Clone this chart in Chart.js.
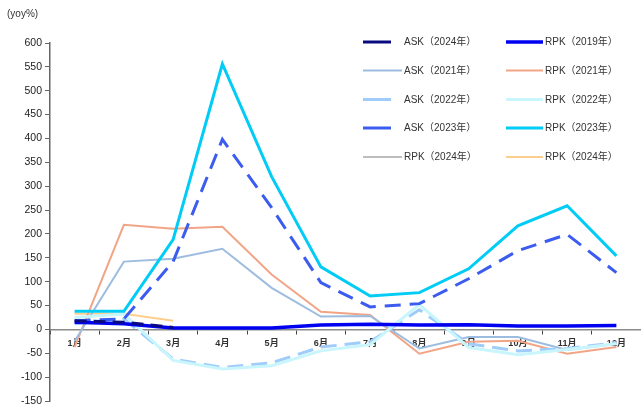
<!DOCTYPE html>
<html>
<head>
<meta charset="utf-8">
<script src="https://cdn.jsdelivr.net/npm/chart.js@4/dist/chart.umd.min.js"></script>
<style>
  html, body { margin: 0; padding: 0; background: #fff; }
  #wrap { position: relative; width: 641px; height: 406px; }
  #unit { position: absolute; left: 7px; top: 8px; font: 10px "Liberation Sans", Arial, sans-serif; color: #333; }
</style>
</head>
<body>
<div id="wrap">
  <div id="unit">(yoy%)</div>
  <canvas id="c" width="641" height="406"></canvas>
</div>
<script>
// Month categories
const months = ['1月', '2月', '3月', '4月', '5月', '6月', '7月', '8月', '9月', '10月', '11月', '12月'];

// Year-on-year growth, %
const ask2024 = [18, 15, 4];
const rpk2019 = [15, 12, 3, 3, 3, 9, 11, 9, 10, 7, 7, 8];
const ask2021 = [-25, 142, 148, 169, 87, 27, 28, -40, -16, -16, -43, -30];
const rpk2021 = [-37, 219, 211, 215, 115, 37, 30, -51, -26, -24, -51, -37];
const ask2022 = [12, 22, -62, -80, -70, -37, -26, 41, -30, -45, -40, -28];
const rpk2022 = [25, 32, -65, -83, -76, -45, -32, 52, -38, -53, -42, -30];
const ask2023 = [18, 22, 142, 398, 255, 98, 47, 54, 106, 165, 199, 119];
const rpk2023 = [38, 38, 188, 556, 320, 131, 70, 77, 127, 217, 259, 154];
const rpk2024Grey = [];
const rpk2024 = [33, 33, 18];

// Y axis range
const yMin = -150, yMax = 600, yStep = 50;

const FONT = '"Liberation Sans", Arial, "Noto Sans CJK SC", sans-serif';

function series(label, data, color, width, dash, order) {
  return {
    label, data,
    borderColor: color, backgroundColor: color,
    borderWidth: width,
    borderDash: dash || [],
    pointRadius: 0, pointHoverRadius: 0,
    tension: 0, fill: false, spanGaps: false,
    order
  };
}

// Two-column legend drawn in the upper right corner
const gridLegend = {
  id: 'gridLegend',
  afterDraw(chart) {
    const ctx = chart.ctx;
    const rows = [42, 70.5, 99.5, 128, 157];
    const cols = [{ x: 363, len: 39 }, { x: 506, len: 37 }];
    ctx.save();
    ctx.font = '10px ' + FONT;
    ctx.fillStyle = '#333';
    ctx.textBaseline = 'middle';
    chart.data.datasets.forEach((ds, i) => {
      const col = cols[i % 2];
      const y = rows[Math.floor(i / 2)];
      const dashed = ds.borderDash && ds.borderDash.length > 0;
      const len = dashed ? 28 : col.len;
      ctx.beginPath();
      ctx.setLineDash([]);
      ctx.lineCap = 'butt';
      ctx.strokeStyle = ds.borderColor;
      ctx.lineWidth = ds.borderWidth;
      ctx.moveTo(col.x, y);
      ctx.lineTo(col.x + len, y);
      ctx.stroke();
      ctx.fillText(ds.label, col.x + (i % 2 === 0 ? 41 : 39), y + 0.5);
    });
    ctx.restore();
  }
};

// Keep the plot area fixed by the layout padding alone
function noScalePadding(scale) {
  scale.paddingTop = 0;
  scale.paddingBottom = 0;
}

new Chart(document.getElementById('c'), {
  type: 'line',
  data: {
    labels: months,
    datasets: [
      series('ASK（2024年）', ask2024, '#0a0a80', 3, [12, 7], 0),
      series('RPK（2019年）', rpk2019, '#0000f0', 3.5, null, 1),
      series('ASK（2021年）', ask2021, '#9dbde0', 2, null, 6),
      series('RPK（2021年）', rpk2021, '#f2a586', 2, null, 7),
      series('ASK（2022年）', ask2022, '#a0ccfa', 3, [16, 8], 5),
      series('RPK（2022年）', rpk2022, '#c8f6fc', 3, null, 4),
      series('ASK（2023年）', ask2023, '#3c5cf0', 3, [16, 9], 3),
      series('RPK（2023年）', rpk2023, '#00ccf5', 3, null, 2),
      series('RPK（2024年）', rpk2024Grey, '#bdbdbd', 2, null, 8),
      series('RPK（2024年）', rpk2024, '#fdcf8e', 2, null, 9)
    ]
  },
  options: {
    responsive: false,
    animation: false,
    events: [],
    layout: { padding: { top: 43, bottom: 5, left: 0, right: 0 } },
    plugins: { legend: { display: false }, tooltip: { enabled: false } },
    scales: {
      x: {
        position: { y: 0 },
        offset: true,
        afterFit: noScalePadding,
        border: { display: true, color: '#8a8a8a', width: 1.5 },
        grid: { display: true, offset: true, drawOnChartArea: false, drawTicks: true, tickLength: 4, color: '#444', lineWidth: 1 },
        ticks: { color: '#333', font: { family: FONT, size: 9, weight: 'bold' }, padding: 5, maxRotation: 0, autoSkip: false }
      },
      y: {
        min: yMin, max: yMax,
        afterFit(scale) { scale.width = 50; noScalePadding(scale); },
        border: { display: true, color: '#666', width: 1.5 },
        grid: { display: true, drawOnChartArea: false, drawTicks: true, tickLength: 5, color: '#666', lineWidth: 1 },
        ticks: { stepSize: yStep, color: '#222', font: { family: FONT, size: 10.5 }, padding: 3 }
      }
    }
  },
  plugins: [gridLegend]
});
</script>
</body>
</html>
